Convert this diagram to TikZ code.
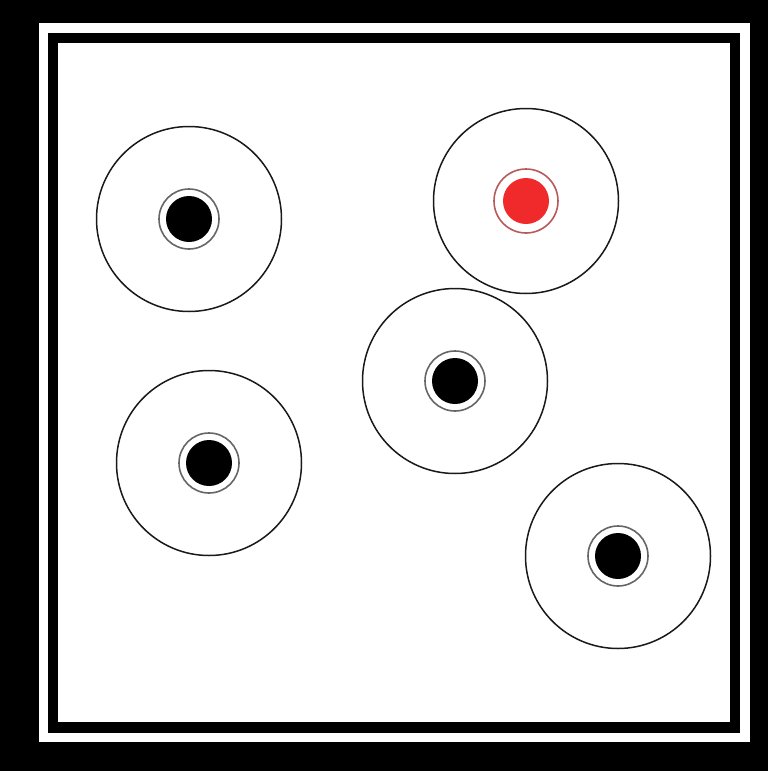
\documentclass[tikz,border=0pt]{standalone}
\usepackage{xcolor}
\usepackage{tikz}
\definecolor{dotred}{RGB}{240,42,42}
\definecolor{ringred}{RGB}{185,90,90}

\begin{document}
\begin{tikzpicture}[x=1pt,y=-1pt,
    zone/.style={circle, draw=black!90, line width=1.5pt, minimum size=185pt, inner sep=0pt},
    ring/.style={circle, draw=black!60, line width=1.6pt, minimum size=60pt, inner sep=0pt},
    dot/.style={circle, fill=black, minimum size=46pt, inner sep=0pt}]

    % frame
    \useasboundingbox (0,0) rectangle (768,771);
    \fill[black] (0,0) rectangle (768,771);
    \draw[white, line width=9.5pt] (43.5,28) rectangle (745,737.5);
    \fill[white] (58,43) rectangle (730,722);

    % targets
    \foreach \n/\x/\y in {a/189/219, c/455/381, d/209/463, e/618/556}{
        \node[zone] (z\n) at (\x,\y) {};
        \node[ring] (r\n) at (z\n) {};
        \node[dot] (d\n) at (z\n) {};
    }

    \node[zone] (zb) at (526,201) {};
    \node[ring, draw=ringred, minimum size=64pt] (rb) at (zb) {};
    \node[dot, fill=dotred] (db) at (zb) {};
\end{tikzpicture}
\end{document}
